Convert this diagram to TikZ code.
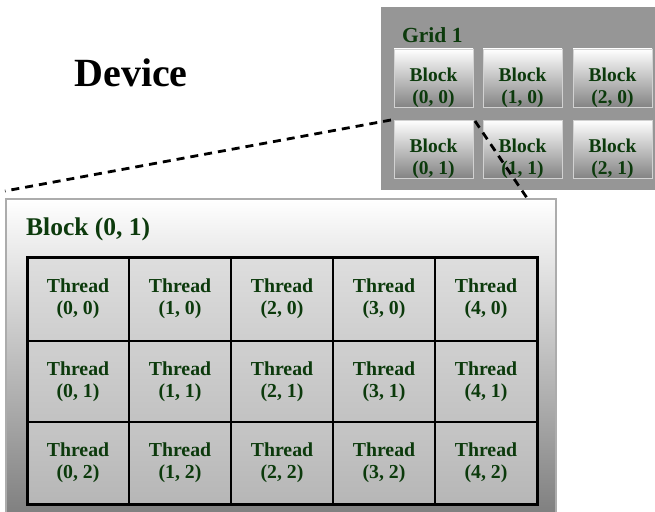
\documentclass[tikz,border=0pt]{standalone}
\usepackage{fontspec}
\setmainfont{Liberation Serif}
\definecolor{txtgreen}{RGB}{12,58,12}
\definecolor{gridgray}{RGB}{150,150,150}
\definecolor{boxedge}{RGB}{172,172,172}
\definecolor{blkbot}{RGB}{132,132,132}
\definecolor{bigbot}{RGB}{128,128,128}
\definecolor{rowAt}{RGB}{222,222,222}
\definecolor{rowAb}{RGB}{206,206,206}
\definecolor{rowBt}{RGB}{208,208,208}
\definecolor{rowBb}{RGB}{194,194,194}
\definecolor{rowCt}{RGB}{198,198,198}
\definecolor{rowCb}{RGB}{182,182,182}
\begin{document}
\begin{tikzpicture}[x=1pt,y=-1pt,
  gridbox/.style={fill=gridgray, draw=none, inner sep=0pt, outer sep=0pt, anchor=north west},
  blockbox/.style={draw=gray!35, line width=0.8pt, top color=white, bottom color=blkbot,
     minimum width=79pt, minimum height=58pt, inner sep=0pt, outer sep=0pt, anchor=north west},
  blocktext/.style={text=txtgreen, font=\bfseries\fontsize{19.5}{22}\selectfont, align=center, inner sep=0pt},
  bigbox/.style={draw=boxedge, line width=2pt, top color=white, bottom color=bigbot,
     inner sep=0pt, outer sep=0pt, anchor=north west},
  cell/.style={draw=black, line width=2.4pt, minimum width=102pt, inner sep=0pt, outer sep=0pt,
     anchor=north west, text=txtgreen, font=\bfseries\fontsize{19.8}{22}\selectfont, align=center},
  linkline/.style={draw=black, line width=2.8pt, dash pattern=on 8pt off 6pt}
]
\useasboundingbox (0,0) rectangle (655,511);

% Device label
\node[font=\bfseries\fontsize{40}{42}\selectfont, anchor=base, inner sep=0pt] (device) at (131,86) {Device};

% Grid 1
\node[gridbox, minimum width=274pt, minimum height=183pt] (grid) at (381,7) {};
\node[text=txtgreen, font=\bfseries\fontsize{21.5}{23}\selectfont, anchor=base west, inner sep=0pt] (gridlabel) at (402,43) {Grid 1};

\foreach \c/\x in {0/394,1/483,2/573}{
  \foreach \r/\y in {0/49,1/120}{
    \node[blockbox] (b\c\r) at (\x,\y) {};
    \node[blocktext] (bt\c\r) at ([yshift=-10pt]b\c\r.center) {Block\\(\c, \r)};
  }
}

% Big block box
\node[bigbox, minimum width=550pt, minimum height=314pt] (big) at (6,199) {};
\node[text=txtgreen, font=\bfseries\fontsize{25.5}{27}\selectfont, anchor=base west, inner sep=0pt] (biglabel) at (26,235) {Block (0, 1)};

% Threads
\foreach \r/\y/\h/\tc/\bc in {0/257/84/rowAt/rowAb,1/341/81/rowBt/rowBb,2/422/82/rowCt/rowCb}{
  \foreach \c/\x in {0/27,1/129,2/231,3/333,4/435}{
    \node[cell, minimum height=\h pt, top color=\tc, bottom color=\bc] (t\c\r) at (\x,\y) {Thread\\(\c, \r)};
  }
}
\draw[line width=3pt] (t00.north west) rectangle (t42.south east);

% Connectors
\coordinate (lA) at (391,120);
\coordinate (lB) at (5,191);
\coordinate (rA) at (475,121);
\coordinate (rB) at (527,198);
\draw[linkline] (lA) -- (lB);
\draw[linkline] (rA) -- (rB);
\end{tikzpicture}
\end{document}
